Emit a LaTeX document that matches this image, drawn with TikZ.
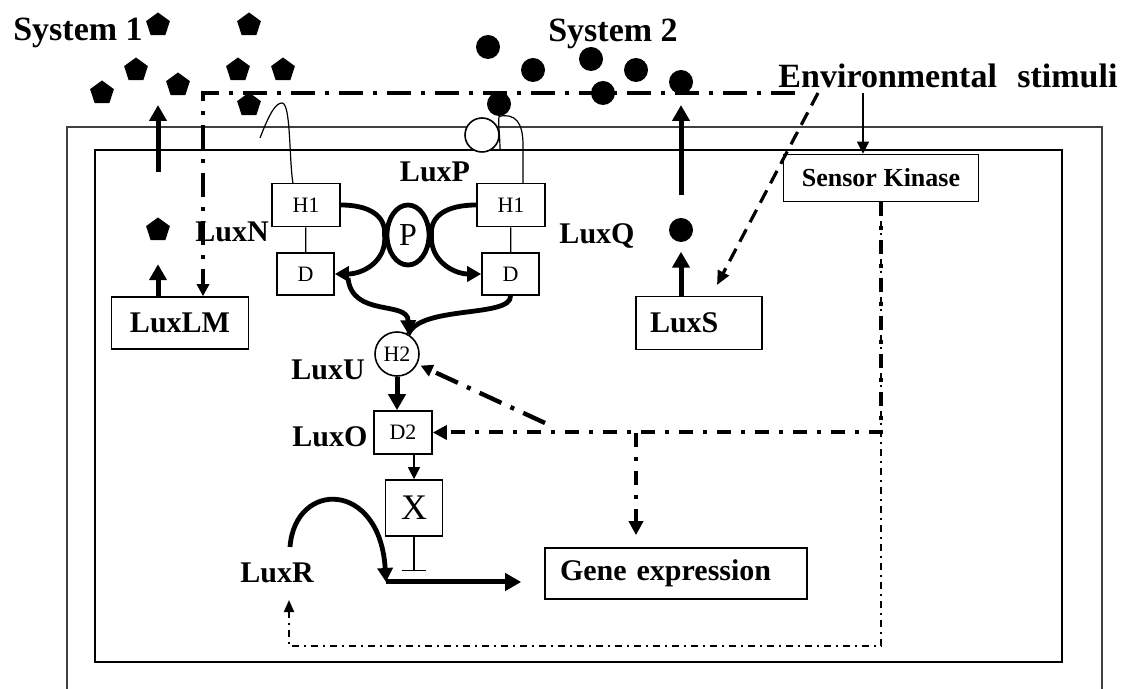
\documentclass[tikz,border=0pt]{standalone}
\usepackage{fontspec}
\setmainfont{Liberation Serif}
\usetikzlibrary{arrows.meta,shapes.geometric}
\tikzset{>=Triangle}
\tikzset{
  wall/.style={line width=0.8pt, black!75},
  membrane/.style={line width=1.1pt},
  box/.style={draw, line width=0.8pt, inner sep=0pt},
  lbl/.style={font=\fontsize{15}{17}\selectfont\bfseries},
  big/.style={font=\fontsize{17}{20}\selectfont\bfseries},
  small/.style={font=\fontsize{11}{13}\selectfont},
  ai/.style={regular polygon, regular polygon sides=5, fill=black, inner sep=0pt, minimum size=12.5pt},
  aitwo/.style={circle, fill=black, inner sep=0pt, minimum size=12pt},
  fat/.style={line width=2.5pt, -{Triangle[length=8pt,width=8.5pt]}},
  relay/.style={line width=2.4pt, -{Triangle[length=7pt,width=7.5pt]}},
  thinarrow/.style={line width=0.6pt, -{Triangle[length=6pt,width=6pt]}},
  sig/.style={line width=2.2pt, dash pattern=on 12pt off 5pt on 2pt off 5pt, -{Triangle[length=6pt,width=6pt]}},
  sigshort/.style={line width=2pt, dash pattern=on 7pt off 5pt on 2pt off 5pt, -{Triangle[length=7pt,width=7pt]}},
  sigthin/.style={line width=1pt, dash pattern=on 3.5pt off 2.5pt on 1pt off 2.5pt, -{Triangle[length=6pt,width=5pt]}},
  envdash/.style={line width=1.6pt, dash pattern=on 7pt off 4pt, -{Triangle[length=7pt,width=6pt]}},
}

\begin{document}
\begin{tikzpicture}[x=0.5pt,y=-0.5pt]
\useasboundingbox (0,0) rectangle (1125,689);
% cell wall and membrane
\draw[wall] (67,689) -- (67,127) -- (1102,127) -- (1102,689);
\draw[membrane] (95,150) rectangle (1062,662);
\node[circle, draw, fill=white, line width=0.8pt, minimum size=17pt, inner sep=0pt] (pore) at (482,135) {};

% outside labels
\node[big] (sys1) at (78,33) {System 1};
\node[big] (sys2) at (613,34) {System 2};
\node[big] (env) at (948,76) {Environmental\hspace{0.6em}stimuli};

% boxes
\node[box, lbl, minimum width=68.5pt, minimum height=26pt] (LuxLM) at (180,323) {LuxLM};
\node[box, lbl, minimum height=26.5pt, inner xsep=7pt, text width=49pt, align=left] (LuxS) at (699,323) {LuxS};
\node[box, minimum width=97.5pt, minimum height=23.5pt, font=\fontsize{13}{15}\selectfont\bfseries] (sensor) at (881,178) {Sensor Kinase};
\node[box, small, minimum width=34pt, minimum height=21.5pt] (H1N) at (306,205) {H1};
\node[box, small, minimum width=28.5pt, minimum height=21pt] (DN) at (305.5,274) {D};
\node[box, small, minimum width=34pt, minimum height=21.5pt] (H1Q) at (511,205) {H1};
\node[box, small, minimum width=28.5pt, minimum height=21pt] (DQ) at (510.5,274) {D};
\node[ellipse, draw, line width=2.4pt, minimum width=21pt, minimum height=30pt, inner sep=0pt, font=\fontsize{16}{18}\selectfont] (P) at (408,235) {P};
\node[circle, draw, line width=0.8pt, minimum size=22pt, inner sep=0pt, small] (H2) at (397,354) {H2};
\node[box, small, minimum width=29pt, minimum height=21.5pt] (D2) at (403,432.5) {D2};
\node[box, minimum width=28.5pt, minimum height=28pt, font=\fontsize{18}{20}\selectfont] (X) at (414,508) {X};
\node[box, lbl, minimum height=25.5pt, inner xsep=7.5pt, text width=116pt, align=left] (gene) at (676,573.5) {Gene expression};

% protein labels
\node[lbl] (LuxP) at (435,172) {LuxP};
\node[lbl] (LuxN) at (232,232) {LuxN};
\node[lbl] (LuxQ) at (597,236) {LuxQ};
\node[lbl] (LuxU) at (328,370) {LuxU};
\node[lbl] (LuxO) at (330,437) {LuxO};
\node[lbl] (LuxR) at (277,573) {LuxR};

% free ends
\coordinate (s1in) at (158,172); \coordinate (s1out) at (158,105);
\coordinate (s2in) at (681,195); \coordinate (s2out) at (681,105);
\coordinate (e1) at (795,93); \coordinate (c1) at (203,93);
\coordinate (e2) at (863,93);
\coordinate (e3) at (818,93); \coordinate (e4) at (717,285);
\coordinate (rn) at (293,183.5); \coordinate (rq) at (523,183.5);
\coordinate (g0) at (545,423); \coordinate (g1) at (636,433);
\coordinate (tb) at (414,571);
\coordinate (pr) at (386,582);
\coordinate (r1) at (881,646); \coordinate (r2) at (289,600);
\coordinate (lr) at (290,547);

% autoinducers
\foreach \x/\y [count=\i] in {158/25,249/25,136/70,238/70,283/70,102/93,178/85,249/105}
  \node[ai] (a\i) at (\x,\y) {};
\foreach \x/\y [count=\i] in {488/47,533/70,591/59,636/70,603/93,681/82,499/104}
  \node[aitwo] (b\i) at (\x,\y) {};
\node[ai] (ain) at (158,230) {};
\node[aitwo] (bin) at (681,230) {};

% receptors in the membrane
\draw[line width=0.6pt] (260,138) .. controls (270,112) and (276,103) .. (282,103)
  .. controls (291,103) and (289,160) .. (rn);
\draw[line width=0.6pt] (b7.south) .. controls (498,125) and (500,135) .. (500,150);
\draw[line width=0.6pt] (b7.south) .. controls (515,113) and (523,122) .. (523,145) -- (rq);
\draw[line width=0.6pt] (H1N) -- (DN);
\draw[line width=0.6pt] (H1Q) -- (DQ);

% transport
\draw[fat] (s1in) -- (s1out);
\draw[fat] (s2in) -- (s2out);
\draw[fat] (LuxLM.north -| ain) -- ++(0,-32);
\draw[fat] (LuxS.north -| bin) -- ++(0,-44);

% phosphorelay
\draw[relay, -] (H1N.east) .. controls (368,205) and (386,215) .. (P.west);
\draw[relay] (P.west) .. controls (387,262) and (362,274) .. (DN.east);
\draw[relay, -] (H1Q.west) .. controls (448,205) and (430,215) .. (P.east);
\draw[relay] (P.east) .. controls (430,262) and (455,274) .. (DQ.west);
\draw[relay] (348,278) .. controls (352,318) and (408,300) .. (H2.60);
\draw[relay, -] (DQ.south) .. controls (512,318) and (420,305) .. (H2.60);
\draw[fat] (H2.south) -- (H2.south |- D2.north);
\draw[thinarrow] (D2.south -| X.north) -- (X.north);
\draw[line width=0.6pt, -{Bar[width=12pt]}] (X.south) -- (tb);
\draw[fat] (pr) -- ([xshift=-11.5pt]gene.west |- pr);
\draw[relay] (lr) .. controls (295,480) and (380,480) .. (pr);

% environmental signals
\draw[sig] (e1) -- (c1) -- (c1 |- LuxLM.north);
\draw[thinarrow] (e2) -- (e2 |- sensor.north);
\draw[envdash] (e3) -- (e4);
\draw[sigshort] (sensor.south) |- (D2.east);
\draw[sigshort] (g1) -- ([yshift=6pt]g1 |- gene.north);
\draw[sig] (g0) -- ([shift={(1.5pt,-1pt)}]H2.-25);
\draw[sigthin] (sensor.south) -- (r1) -| (r2);
\end{tikzpicture}
\end{document}
